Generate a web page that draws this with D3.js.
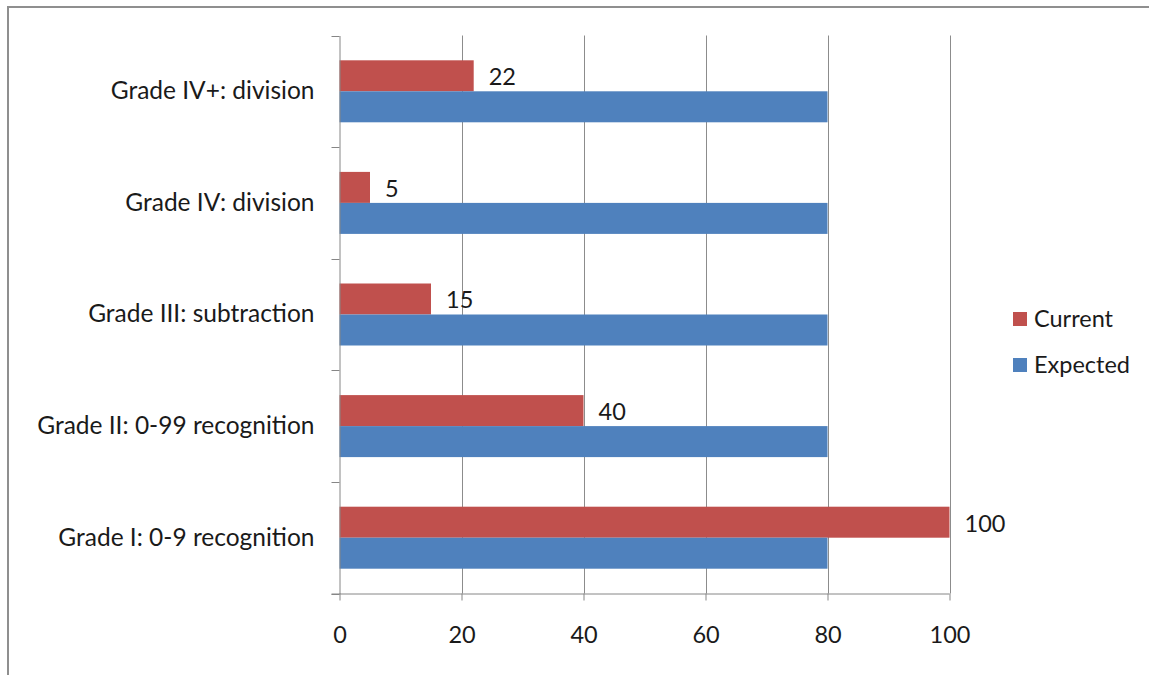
<!DOCTYPE html>
<html>
<head>
<meta charset="utf-8">
<script src="https://cdn.jsdelivr.net/npm/d3@7"></script>
<style>
html,body{margin:0;padding:0;background:#fff;}
svg{display:block;font-family:Lato,"Open Sans",sans-serif;}
</style>
</head>
<body>
<svg id="chart" width="1149" height="675"></svg>
<script>
const categories = ["Grade I: 0-9 recognition","Grade II: 0-99 recognition","Grade III: subtraction","Grade IV: division","Grade IV+: division"];
const currentValues = [100, 40, 15, 5, 22];
const expectedValues = [80, 80, 80, 80, 80];
const seriesNames = ["Current","Expected"];
const seriesColors = ["#C0504D","#4F81BD"];
const xTicks = [0,20,40,60,80,100];

(function(){
const svg = d3.select("#chart");
const W = 1149, H = 675;
const FS = 23.5, FSC = 24.5;

svg.append("rect").attr("x",8).attr("y",7).attr("width",W).attr("height",H)
  .attr("fill","none").attr("stroke","#8f8f8f").attr("stroke-width",2);

const pl = 339.5, pr = 949.5, pt = 35.5, pb = 593.5;

const x = d3.scaleLinear().domain([0,100]).range([pl,pr]);
const y = d3.scaleBand().domain(categories.slice().reverse()).range([pt,pb]).paddingInner(0).paddingOuter(0);
const ySub = d3.scaleBand().domain(seriesNames).range([0,y.bandwidth()]).paddingInner(0).paddingOuter(0.8);

svg.append("g").selectAll("line").data(xTicks.slice(1)).join("line")
  .attr("x1",d=>Math.round(x(d))+0.5).attr("x2",d=>Math.round(x(d))+0.5)
  .attr("y1",pt).attr("y2",pb)
  .attr("stroke","#8c8c8c").attr("stroke-width",1);

const data = categories.map((c,i)=>({cat:c, values:[currentValues[i],expectedValues[i]]}));
const groups = svg.append("g").selectAll("g").data(data).join("g")
  .attr("transform",d=>`translate(0,${y(d.cat)})`);
groups.selectAll("rect").data(d=>d.values.map((v,j)=>({v,s:seriesNames[j],c:seriesColors[j]}))).join("rect")
  .attr("x",x(0)).attr("y",d=>ySub(d.s)).attr("width",d=>x(d.v)-x(0)).attr("height",ySub.bandwidth())
  .attr("fill",d=>d.c);

groups.append("text")
  .attr("x",(d)=>x(d.values[0])+15)
  .attr("y",ySub("Current")+ySub.bandwidth()/2+1)
  .attr("dy","0.36em")
  .attr("font-size",FS).attr("fill","#1a1a1a")
  .text(d=>d.values[0]);

const yAxis = d3.axisLeft(y).tickSize(0).tickPadding(25);
const yg = svg.append("g").attr("transform",`translate(${pl},0)`).call(yAxis);
yg.select(".domain").attr("stroke","#868686");
yg.selectAll("text").attr("font-size",FSC).attr("fill","#1a1a1a").attr("font-family","Lato,'Open Sans',sans-serif");
svg.append("g").selectAll("line").data(d3.range(categories.length+1)).join("line")
  .attr("x1",pl-8).attr("x2",pl)
  .attr("y1",i=>Math.round(pt+i*y.step())+0.5).attr("y2",i=>Math.round(pt+i*y.step())+0.5)
  .attr("stroke","#868686");

const xAxis = d3.axisBottom(x).tickValues(xTicks).tickSize(7).tickPadding(26).tickSizeOuter(0);
const xg = svg.append("g").attr("transform",`translate(0,${pb})`).call(xAxis);
xg.select(".domain").attr("stroke","#868686").attr("d",`M${pl-8},0.5H${pr}`);
xg.selectAll(".tick line").attr("stroke","#868686");
xg.selectAll("text").attr("font-size",FS).attr("fill","#1a1a1a").attr("font-family","Lato,'Open Sans',sans-serif");

const legend = svg.append("g").attr("transform","translate(1013,312)");
const li = legend.selectAll("g").data(seriesNames).join("g")
  .attr("transform",(d,i)=>`translate(0,${i*46})`);
li.append("rect").attr("width",14).attr("height",14).attr("fill",(d,i)=>seriesColors[i]);
li.append("text").attr("x",21).attr("y",7).attr("dy","0.36em")
  .attr("font-size",FS).attr("fill","#1a1a1a").text(d=>d);
})();
</script>
</body>
</html>
